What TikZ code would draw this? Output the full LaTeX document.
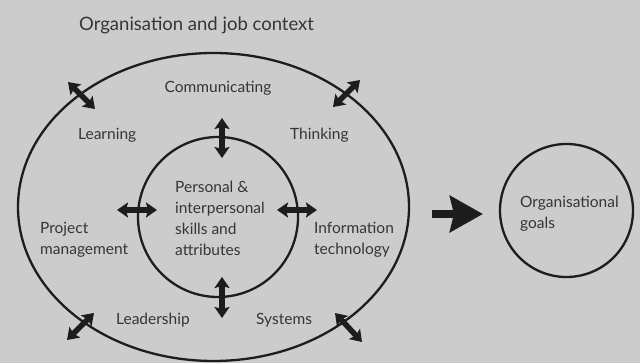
\documentclass[tikz,border=0pt]{standalone}
\usepackage{fontspec}
\setmainfont{Lato}
\usetikzlibrary{arrows.meta,shapes.geometric}
\definecolor{bg}{HTML}{CCCCCC}
\definecolor{ink}{HTML}{1E1C1D}
\definecolor{txt}{HTML}{353535}
\tikzset{
  lbl/.style={anchor=west,align=left,text=txt,font=\fontsize{15.5}{21}\selectfont,inner sep=0pt},
  dblarrow/.style={ink,line width=5.5pt,{Stealth[length=11pt,width=15pt,inset=2pt]}-{Stealth[length=11pt,width=15pt,inset=2pt]}},
  bigarrow/.style={ink,line width=8pt,-{Stealth[length=33pt,width=36pt,inset=4pt]}},
  ring/.style={draw=ink,line width=2.3pt,inner sep=0pt}
}
\begin{document}
\begin{tikzpicture}[x=1pt,y=-1pt]
\useasboundingbox (0,0) rectangle (640,363);
\fill[bg] (0,0) rectangle (640,363);
% rings
\node[ring,ellipse,minimum width=391pt,minimum height=308pt] (outer) at (213.5,207) {};
\node[ring,circle,minimum size=160pt] (inner) at (218,217) {};
\node[ring,circle,minimum size=133pt] (goal) at (566.5,210.5) {};
% labels
\node[lbl,font=\fontsize{18.5}{22}\selectfont] (ctx) at (79,25) {Organisation and job context};
\node[lbl,anchor=center] (comm) at (218,88) {Communicating};
\node[lbl] (learn) at (78,135) {Learning};
\node[lbl] (think) at (290,135) {Thinking};
\node[lbl] (pers) at (175,218.5) {Personal \&\\interpersonal\\skills and\\attributes};
\node[lbl] (proj) at (40,240) {Project\\management};
\node[lbl] (info) at (314,240) {Information\\technology};
\node[lbl] (lead) at (116,320) {Leadership};
\node[lbl] (sys) at (256,320) {Systems};
\node[lbl] (goals) at (520,213.5) {Organisational\\goals};
% arrow end points
\coordinate (t1) at (222,118); \coordinate (t2) at (222,158);
\coordinate (b1) at (222,277); \coordinate (b2) at (222,318);
\coordinate (l1) at (117,210); \coordinate (l2) at (157,210);
\coordinate (r1) at (277,210); \coordinate (r2) at (317,210);
\coordinate (tl1) at (68,82); \coordinate (tl2) at (95,109);
\coordinate (tr1) at (333,107); \coordinate (tr2) at (360,80);
\coordinate (bl1) at (67,340); \coordinate (bl2) at (94,313);
\coordinate (br1) at (335,313); \coordinate (br2) at (362,342);
\coordinate (g1) at (432,214); \coordinate (g2) at (483,214);
\draw[dblarrow] (t1) -- (t2);
\draw[dblarrow] (b1) -- (b2);
\draw[dblarrow] (l1) -- (l2);
\draw[dblarrow] (r1) -- (r2);
\draw[dblarrow] (tl1) -- (tl2);
\draw[dblarrow] (tr1) -- (tr2);
\draw[dblarrow] (bl1) -- (bl2);
\draw[dblarrow] (br1) -- (br2);
\draw[bigarrow] (g1) -- (g2);
\end{tikzpicture}
\end{document}
